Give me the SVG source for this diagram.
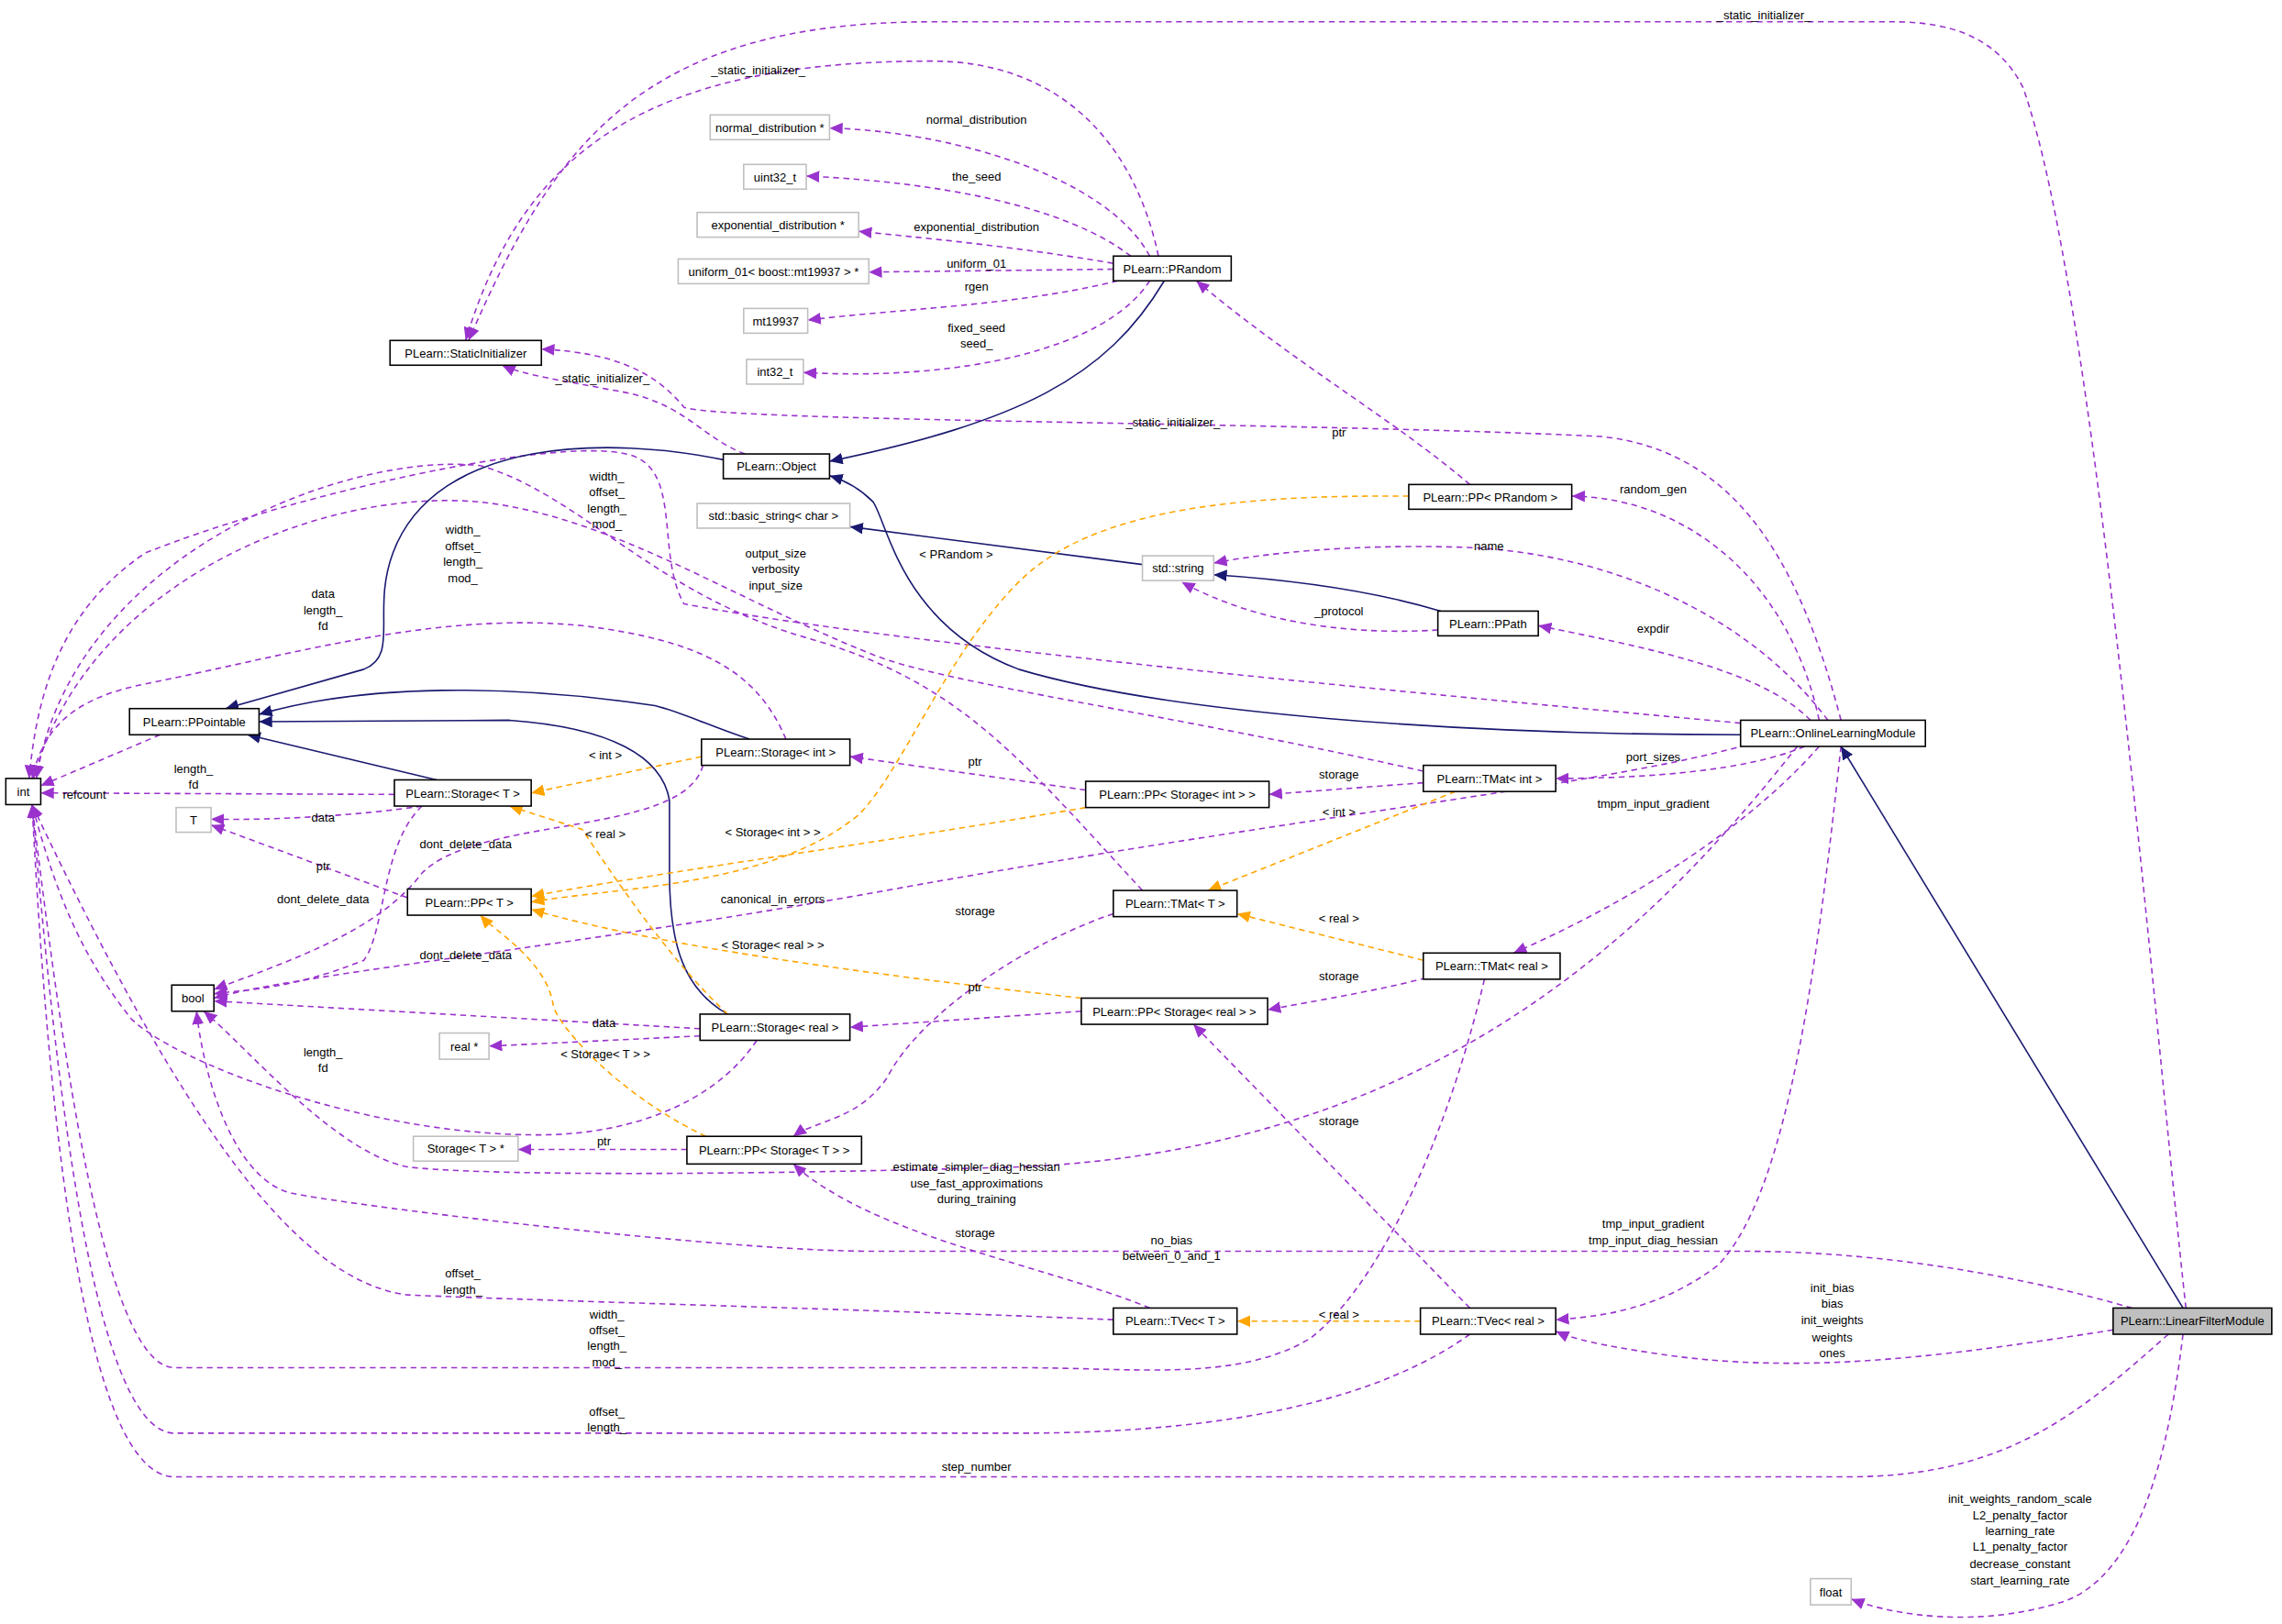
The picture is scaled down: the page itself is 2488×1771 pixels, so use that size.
<svg xmlns="http://www.w3.org/2000/svg" width="2488" height="1771" viewBox="0 0 2488 1771">
<style>
.n rect{fill:#fff;stroke:#000;stroke-width:1}
.g rect{fill:#fff;stroke:#bfbfbf;stroke-width:1}
.h rect{fill:#bfbfbf;stroke:#000;stroke-width:1}
text{font-family:"Liberation Sans",Arial,sans-serif;font-size:8.2px;text-anchor:middle;fill:#000}
.p{fill:none;stroke:#9a32cd;stroke-dasharray:4,3;marker-end:url(#mp)}
.b{fill:none;stroke:#191970;marker-end:url(#mb)}
.o{fill:none;stroke:#ffa500;stroke-dasharray:4,3;marker-end:url(#mo)}
</style>
<defs>
<marker id="mp" markerUnits="userSpaceOnUse" markerWidth="10" markerHeight="8" refX="9" refY="4" orient="auto"><path d="M0,0L9,4L0,8z" fill="#9a32cd"/></marker>
<marker id="mb" markerUnits="userSpaceOnUse" markerWidth="10" markerHeight="8" refX="9" refY="4" orient="auto"><path d="M0,0L9,4L0,8z" fill="#191970"/></marker>
<marker id="mo" markerUnits="userSpaceOnUse" markerWidth="10" markerHeight="8" refX="9" refY="4" orient="auto"><path d="M0,0L9,4L0,8z" fill="#ffa500"/></marker>
</defs>
<rect width="2488" height="1771" fill="#fff"/>
<g transform="scale(1.5867)">
<g id="edges">
<path class="p" d="M790,176 C760,120 650,90 570,88"/>
<path class="p" d="M777,176 C730,140 640,125 554,121"/>
<path class="p" d="M765,181 C700,170 650,165 590,159"/>
<path class="p" d="M765,185 L597,187"/>
<path class="p" d="M768,193 C700,210 620,212 555,220"/>
<path class="p" d="M790,193 C760,240 660,262 552,256"/>
<path class="p" d="M796,176 C780,100 730,42 640,42 C450,42 360,100 320,234"/>
<path class="p" d="M1265,495 C1240,400 1200,310 1100,300 C900,290 500,290 470,280 C450,255 420,242 372,240"/>
<path class="p" d="M512,312 C480,300 470,275 420,268 C390,262 360,258 345,251"/>
<path class="p" d="M1502,899 C1480,700 1440,200 1390,60 C1370,20 1330,15 1300,15 L640,15 C440,15 380,100 322,234"/>
<path class="p" d="M1010,333 C960,290 890,250 822,193"/>
<path class="p" d="M1250,495 C1230,400 1160,342 1080,341"/>
<path class="p" d="M1256,495 C1200,420 1100,378 1000,376 C930,374 870,380 834,387"/>
<path class="p" d="M988,433 C940,436 870,432 812,400"/>
<path class="p" d="M1244,495 C1210,460 1130,445 1057,430"/>
<path class="p" d="M1196,497 C900,470 600,440 470,415 C450,380 470,320 430,312 C380,300 200,340 100,380 C40,420 25,480 20,535"/>
<path class="p" d="M540,508 C520,460 480,440 400,430 C300,420 200,450 100,470 C50,480 30,500 22,535"/>
<path class="p" d="M978,530 C800,490 650,470 600,450 C500,410 420,355 330,345 C220,335 60,400 23,535"/>
<path class="p" d="M785,612 C700,520 660,470 560,440 C450,410 400,340 330,320 C240,310 50,380 25,535"/>
<path class="p" d="M110,505 L28,540"/>
<path class="p" d="M271,546 L28,545"/>
<path class="p" d="M290,554 C250,560 190,564 145,563"/>
<path class="p" d="M280,617 L145,567"/>
<path class="p" d="M483,526 C470,575 330,560 290,600 C260,640 200,660 147,680"/>
<path class="p" d="M290,554 C262,580 265,640 250,660 C200,680 170,680 147,683"/>
<path class="p" d="M481,707 L147,688"/>
<path class="p" d="M1200,512 C1100,540 900,560 620,610 C400,650 200,670 147,686"/>
<path class="p" d="M481,712 L336,719"/>
<path class="p" d="M520,715 C490,760 430,780 370,780 C250,780 120,730 90,700 C50,650 35,600 22,553"/>
<path class="p" d="M472,790 L356,790"/>
<path class="p" d="M746,543 L584,520"/>
<path class="p" d="M978,538 L872,546"/>
<path class="p" d="M1240,513 C1200,530 1130,535 1069,535"/>
<path class="p" d="M1250,513 C1200,570 1120,620 1040,655"/>
<path class="p" d="M980,672 C950,680 920,685 871,694"/>
<path class="p" d="M743,695 L584,706"/>
<path class="p" d="M765,628 C700,650 630,700 610,740 C590,770 560,770 545,781"/>
<path class="p" d="M1235,513 C1150,620 1000,790 700,802 C500,808 330,808 280,802 C230,792 170,720 140,695"/>
<path class="p" d="M1465,899 C1400,880 1300,860 1200,860 L600,860 C500,860 250,830 200,820 C160,810 140,740 135,695"/>
<path class="p" d="M1010,899 L820,704"/>
<path class="p" d="M790,899 C720,870 600,850 545,800"/>
<path class="p" d="M765,907 C600,900 400,895 280,890 C200,880 120,760 22,553"/>
<path class="p" d="M1020,673 C990,800 940,890 900,920 C850,950 780,940 700,940 L120,940 C70,940 40,700 22,553"/>
<path class="p" d="M1010,917 C950,960 850,985 700,985 L120,985 C60,985 35,700 22,553"/>
<path class="p" d="M1490,917 C1430,970 1380,1015 1270,1015 L120,1015 C50,1015 30,700 22,553"/>
<path class="p" d="M1265,513 C1250,650 1230,820 1180,870 C1140,900 1100,905 1069,907"/>
<path class="p" d="M1452,914 C1350,930 1250,945 1150,932 C1100,925 1080,920 1069,915"/>
<path class="p" d="M1500,917 C1490,1000 1470,1080 1420,1100 C1360,1120 1300,1110 1272,1099"/>
<path class="b" d="M800,193 C760,260 700,290 570,317"/>
<path class="b" d="M497,316 C420,300 300,300 270,380 C255,420 275,450 250,460 L155,487"/>
<path class="b" d="M1196,505 C1000,505 800,490 700,460 C620,430 610,360 600,345 C590,335 580,330 570,327"/>
<path class="b" d="M785,388 L584,362"/>
<path class="b" d="M990,420 C940,405 880,398 834,395"/>
<path class="b" d="M515,508 C490,500 470,490 450,485 C350,470 250,470 178,491"/>
<path class="b" d="M500,697 C470,680 460,650 460,600 L460,550 C455,520 420,500 350,495 L178,496"/>
<path class="b" d="M300,536 L170,505"/>
<path class="b" d="M1500,899 L1265,513"/>
<path class="o" d="M482,520 L365,545"/>
<path class="o" d="M500,697 C460,660 420,600 400,570 L350,554"/>
<path class="o" d="M746,555 C600,580 450,600 365,616"/>
<path class="o" d="M743,686 C600,670 450,650 365,625"/>
<path class="o" d="M485,781 C420,750 380,700 380,690 C375,660 340,640 330,629"/>
<path class="o" d="M968,341 C850,340 750,350 700,400 C650,450 620,530 590,560 C530,610 420,610 365,620"/>
<path class="o" d="M1000,544 L830,612"/>
<path class="o" d="M978,660 L850,628"/>
<path class="o" d="M976,908 L850,908"/>
<g>
<text x="671" y="85">normal_distribution</text>
<text x="671" y="124">the_seed</text>
<text x="671" y="159">exponential_distribution</text>
<text x="671" y="184">uniform_01</text>
<text x="671" y="200">rgen</text>
<text x="671" y="228">fixed_seed</text>
<text x="671" y="239">seed_</text>
<text x="521" y="51">_static_initializer_</text>
<text x="1212" y="13">_static_initializer_</text>
<text x="414" y="263">_static_initializer_</text>
<text x="806" y="293">_static_initializer_</text>
<text x="920" y="300">ptr</text>
<text x="1136" y="339">random_gen</text>
<text x="1023" y="378">name</text>
<text x="657" y="384">&lt; PRandom &gt;</text>
<text x="920" y="423">_protocol</text>
<text x="1136" y="435">expdir</text>
<text x="533" y="383">output_size</text>
<text x="533" y="394">verbosity</text>
<text x="533" y="405">input_size</text>
<text x="417" y="330">width_</text>
<text x="417" y="341">offset_</text>
<text x="417" y="352">length_</text>
<text x="417" y="363">mod_</text>
<text x="318" y="367">width_</text>
<text x="318" y="378">offset_</text>
<text x="318" y="389">length_</text>
<text x="318" y="400">mod_</text>
<text x="222" y="411">data</text>
<text x="222" y="422">length_</text>
<text x="222" y="433">fd</text>
<text x="58" y="549">refcount</text>
<text x="133" y="531">length_</text>
<text x="133" y="542">fd</text>
<text x="416" y="522">&lt; int &gt;</text>
<text x="670" y="526">ptr</text>
<text x="920" y="535">storage</text>
<text x="1136" y="523">port_sizes</text>
<text x="1136" y="555">tmpm_input_gradient</text>
<text x="920" y="561">&lt; int &gt;</text>
<text x="222" y="565">data</text>
<text x="320" y="583">dont_delete_data</text>
<text x="416" y="576">&lt; real &gt;</text>
<text x="531" y="575">&lt; Storage&lt; int &gt; &gt;</text>
<text x="222" y="598">ptr</text>
<text x="222" y="621">dont_delete_data</text>
<text x="531" y="621">canonical_in_errors</text>
<text x="670" y="629">storage</text>
<text x="920" y="634">&lt; real &gt;</text>
<text x="531" y="652">&lt; Storage&lt; real &gt; &gt;</text>
<text x="320" y="659">dont_delete_data</text>
<text x="920" y="674">storage</text>
<text x="670" y="681">ptr</text>
<text x="415" y="706">data</text>
<text x="222" y="726">length_</text>
<text x="222" y="737">fd</text>
<text x="416" y="727">&lt; Storage&lt; T &gt; &gt;</text>
<text x="415" y="787">ptr</text>
<text x="920" y="773">storage</text>
<text x="671" y="805">estimate_simpler_diag_hessian</text>
<text x="671" y="816">use_fast_approximations</text>
<text x="671" y="827">during_training</text>
<text x="670" y="850">storage</text>
<text x="805" y="855">no_bias</text>
<text x="805" y="866">between_0_and_1</text>
<text x="1136" y="844">tmp_input_gradient</text>
<text x="1136" y="855">tmp_input_diag_hessian</text>
<text x="318" y="878">offset_</text>
<text x="318" y="889">length_</text>
<text x="1259" y="888">init_bias</text>
<text x="1259" y="899">bias</text>
<text x="1259" y="910">init_weights</text>
<text x="1259" y="922">weights</text>
<text x="1259" y="933">ones</text>
<text x="920" y="906">&lt; real &gt;</text>
<text x="417" y="906">width_</text>
<text x="417" y="917">offset_</text>
<text x="417" y="928">length_</text>
<text x="417" y="939">mod_</text>
<text x="417" y="973">offset_</text>
<text x="417" y="984">length_</text>
<text x="671" y="1011">step_number</text>
<text x="1388" y="1033">init_weights_random_scale</text>
<text x="1388" y="1044">L2_penalty_factor</text>
<text x="1388" y="1055">learning_rate</text>
<text x="1388" y="1066">L1_penalty_factor</text>
<text x="1388" y="1078">decrease_constant</text>
<text x="1388" y="1089">start_learning_rate</text>
</g>
</g>
<g id="normal_distribution" class="g"><rect x="488" y="79" width="82" height="17"/><text x="529" y="90.5">normal_distribution *</text></g>
<g id="uint32_t" class="g"><rect x="511" y="113" width="43" height="17"/><text x="532.5" y="124.5">uint32_t</text></g>
<g id="exponential_distribution" class="g"><rect x="479" y="146" width="111" height="17"/><text x="534.5" y="157.5">exponential_distribution *</text></g>
<g id="uniform_01" class="g"><rect x="466" y="178" width="131" height="17"/><text x="531.5" y="189.5">uniform_01&lt; boost::mt19937 &gt; *</text></g>
<g id="mt19937" class="g"><rect x="511" y="212" width="44" height="17"/><text x="533" y="223.5">mt19937</text></g>
<g id="int32_t" class="g"><rect x="513" y="247" width="39" height="17"/><text x="532.5" y="258.5">int32_t</text></g>
<g id="PRandom" class="n"><rect x="765" y="176" width="81" height="17"/><text x="805.5" y="187.5">PLearn::PRandom</text></g>
<g id="StaticInitializer" class="n"><rect x="268" y="234" width="104" height="17"/><text x="320" y="245.5">PLearn::StaticInitializer</text></g>
<g id="Object" class="n"><rect x="497" y="312" width="73" height="17"/><text x="533.5" y="323.5">PLearn::Object</text></g>
<g id="basic_string" class="g"><rect x="479" y="346" width="105" height="17"/><text x="531.5" y="357.5">std::basic_string&lt; char &gt;</text></g>
<g id="PP_PRandom" class="n"><rect x="968" y="333" width="112" height="17"/><text x="1024" y="344.5">PLearn::PP&lt; PRandom &gt;</text></g>
<g id="string" class="g"><rect x="785" y="382" width="49" height="17"/><text x="809.5" y="393.5">std::string</text></g>
<g id="PPath" class="n"><rect x="988" y="420" width="69" height="17"/><text x="1022.5" y="431.5">PLearn::PPath</text></g>
<g id="OnlineLearningModule" class="n"><rect x="1196" y="495" width="127" height="18"/><text x="1259.5" y="507">PLearn::OnlineLearningModule</text></g>
<g id="PPointable" class="n"><rect x="89" y="487" width="89" height="18"/><text x="133.5" y="499">PLearn::PPointable</text></g>
<g id="int" class="n"><rect x="4" y="535" width="24" height="18"/><text x="16" y="547">int</text></g>
<g id="Storage_T" class="n"><rect x="271" y="536" width="94" height="18"/><text x="318" y="548">PLearn::Storage&lt; T &gt;</text></g>
<g id="Storage_int" class="n"><rect x="482" y="508" width="102" height="18"/><text x="533" y="520">PLearn::Storage&lt; int &gt;</text></g>
<g id="PP_Storage_int" class="n"><rect x="746" y="537" width="126" height="18"/><text x="809" y="549">PLearn::PP&lt; Storage&lt; int &gt; &gt;</text></g>
<g id="TMat_int" class="n"><rect x="978" y="526" width="91" height="18"/><text x="1023.5" y="538">PLearn::TMat&lt; int &gt;</text></g>
<g id="T" class="g"><rect x="121" y="555" width="24" height="17"/><text x="133" y="566.5">T</text></g>
<g id="PP_T" class="n"><rect x="280" y="611" width="85" height="18"/><text x="322.5" y="623">PLearn::PP&lt; T &gt;</text></g>
<g id="TMat_T" class="n"><rect x="765" y="612" width="85" height="18"/><text x="807.5" y="624">PLearn::TMat&lt; T &gt;</text></g>
<g id="bool" class="n"><rect x="118" y="677" width="29" height="18"/><text x="132.5" y="689">bool</text></g>
<g id="TMat_real" class="n"><rect x="978" y="655" width="94" height="18"/><text x="1025" y="667">PLearn::TMat&lt; real &gt;</text></g>
<g id="Storage_real" class="n"><rect x="481" y="697" width="103" height="18"/><text x="532.5" y="709">PLearn::Storage&lt; real &gt;</text></g>
<g id="PP_Storage_real" class="n"><rect x="743" y="686" width="128" height="18"/><text x="807" y="698">PLearn::PP&lt; Storage&lt; real &gt; &gt;</text></g>
<g id="real_ptr" class="g"><rect x="302" y="710" width="34" height="18"/><text x="319" y="722">real *</text></g>
<g id="Storage_T_ptr" class="g"><rect x="284" y="781" width="72" height="17"/><text x="320" y="792.5">Storage&lt; T &gt; *</text></g>
<g id="PP_Storage_T" class="n"><rect x="472" y="781" width="120" height="19"/><text x="532" y="793.5">PLearn::PP&lt; Storage&lt; T &gt; &gt;</text></g>
<g id="TVec_T" class="n"><rect x="765" y="899" width="85" height="18"/><text x="807.5" y="911">PLearn::TVec&lt; T &gt;</text></g>
<g id="TVec_real" class="n"><rect x="976" y="899" width="93" height="18"/><text x="1022.5" y="911">PLearn::TVec&lt; real &gt;</text></g>
<g id="LinearFilterModule" class="h"><rect x="1452" y="899" width="109" height="18"/><text x="1506.5" y="911">PLearn::LinearFilterModule</text></g>
<g id="float" class="g"><rect x="1244" y="1085" width="28" height="18"/><text x="1258" y="1097">float</text></g>
</g>
</svg>
